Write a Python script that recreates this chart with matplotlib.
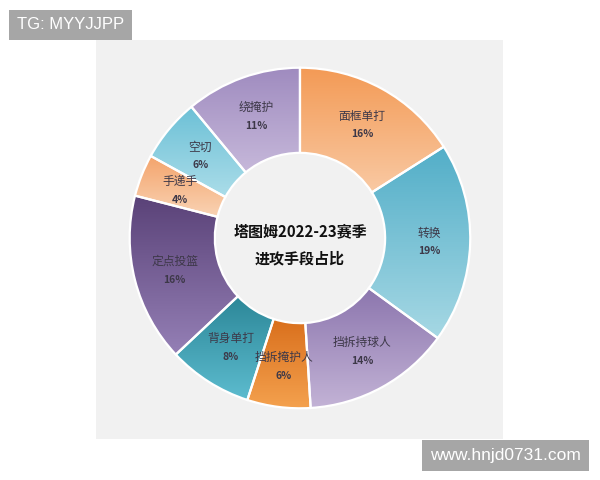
import matplotlib.pyplot as plt
import matplotlib.colors as mcolors
import numpy as np
from matplotlib.patches import Wedge, Rectangle

plt.rcParams['font.family'] = ['Noto Sans CJK SC', 'DejaVu Sans']

labels = ['面框单打', '转换', '挡拆持球人', '挡拆掩护人', '背身单打',
          '定点投篮', '手递手', '空切', '绕掩护']
shares = [16, 19, 14, 6, 8, 16, 4, 6, 11]
# top / bottom colours of each slice's gradient
topColors = ['#f39a55', '#52aec8', '#8c76ae', '#d96f1c', '#2c8798',
             '#5a4278', '#f4a46c', '#6cc0d6', '#9f8bbf']
bottomColors = ['#f9c9a3', '#a6d8e4', '#c3b3d6', '#f4a14e', '#5dbccf',
                '#9580b6', '#f9d3b4', '#abdde9', '#c6b8da']
title = '塔图姆2022-23赛季\n进攻手段占比'

OUTER = 1.0
INNER = 0.5
LABEL_R = 0.76

fig = plt.figure(figsize=(6, 4.8), dpi=100)
fig.patches.append(Rectangle((0.16, 0.0854), 0.678, 0.8313, transform=fig.transFigure,
                             facecolor='#f1f1f1', edgecolor='none', zorder=-5))

ax = fig.add_axes([0.2133, 0.1458, 0.5733, 0.7167])
ax.set_zorder(2)
ax.patch.set_visible(False)
ax.axis('off')

total = sum(shares)
start = 90.0
for name, val, c1, c2 in zip(labels, shares, topColors, bottomColors):
    sweep = 360.0 * val / total
    theta2 = start
    theta1 = start - sweep
    # slice outline, also used as clip path for the gradient
    wedge = Wedge((0, 0), OUTER, theta1, theta2, width=OUTER - INNER,
                  facecolor='none', edgecolor='white', linewidth=1.6, zorder=3)
    ax.add_patch(wedge)
    ys = []
    for a in np.linspace(theta1, theta2, 30):
        ys += [OUTER * np.sin(np.deg2rad(a)), INNER * np.sin(np.deg2rad(a))]
    cmap = mcolors.LinearSegmentedColormap.from_list('g', [c2, c1])
    grad = np.linspace(0, 1, 256).reshape(-1, 1)
    im = ax.imshow(grad, cmap=cmap, origin='lower', aspect='auto',
                   extent=(-1, 1, min(ys), max(ys)), zorder=2)
    im.set_clip_path(wedge)

    mid = np.deg2rad((theta1 + theta2) / 2)
    x = LABEL_R * np.cos(mid)
    y = LABEL_R * np.sin(mid)
    ax.text(x, y + 0.05, name, ha='center', va='center', fontsize=8.5,
            color='#3d3848', zorder=4)
    ax.text(x, y - 0.055, f'{val}%', ha='center', va='center', fontsize=7.5,
            fontweight='bold', color='#3d3848', zorder=4)
    start = theta1

ax.set_xlim(-1.01, 1.01)
ax.set_ylim(-1.01, 1.01)
ax.set_aspect('equal')
ax.text(0, -0.04, title, ha='center', va='center', fontsize=10.8, fontweight='bold',
        color='#111111', linespacing=1.85, zorder=4)

fig.text(0.0283, 0.9485, 'TG: MYYJJPP', ha='left', va='center', fontsize=12,
         color='white', family=['Liberation Sans', 'DejaVu Sans'],
         bbox=dict(boxstyle='square,pad=0.45', facecolor='#a6a6a6', edgecolor='none'))
fig.text(0.8425, 0.0510, 'www.hnjd0731.com', ha='center', va='center', fontsize=12.5,
         color='white', family=['Liberation Sans', 'DejaVu Sans'],
         bbox=dict(boxstyle='square,pad=0.45', facecolor='#a6a6a6', edgecolor='none'))

fig.savefig('out.png', dpi=100)
